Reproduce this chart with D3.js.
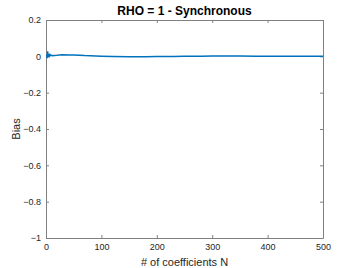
<!DOCTYPE html>
<html>
<head>
<meta charset="utf-8">
<script src="https://cdn.jsdelivr.net/npm/d3@7"></script>
<style>
  body { margin: 0; background: #fff; }
  text { font-family: "Liberation Sans", Arial, sans-serif; }
</style>
</head>
<body>
<div id="chart"></div>
<script>
// data
var coeffN = [1, 2, 3, 4, 5, 6, 7, 8, 10, 12, 15, 20, 25, 30, 40, 50, 60, 70, 80, 100,
  120, 150, 180, 200, 230, 250, 280, 300, 320, 350, 380, 400, 430, 450, 480, 500];
var bias = [0.008, -0.01, 0.028, -0.004, 0.012, 0.002, 0.01, 0.004, 0.006, 0.003, 0.005, 0.006,
  0.008, 0.009, 0.008, 0.007, 0.006, 0.004, 0.003, 0.001, -0.001, -0.002, -0.002, -0.001,
  -0.001, 0, 0.001, 0.002, 0.002, 0.002, 0.001, 0.001, 0, 0.001, 0.001, 0.001];
var xTicks = [0, 100, 200, 300, 400, 500];
var yTicks = [-1, -0.8, -0.6, -0.4, -0.2, 0, 0.2];

var svgWidth = 357;
var svgHeight = 268;
var margin = { top: 20, right: 34, bottom: 30, left: 46 };
var width = svgWidth - margin.left - margin.right;
var height = svgHeight - margin.top - margin.bottom;

var svg = d3.select("#chart")
  .append("svg")
  .attr("width", svgWidth)
  .attr("height", svgHeight);

var chartGroup = svg.append("g")
  .attr("transform", `translate(${margin.left}, ${margin.top})`);

var xScale = d3.scaleLinear().domain([0, 500]).range([0, width]);
var yScale = d3.scaleLinear().domain([-1, 0.2]).range([height, 0]);

var axisColor = "#808080";
var fmt = d => d3.format("")(+d.toFixed(1));

function styleAxis(g, showLabels) {
  g.select(".domain").attr("stroke", axisColor);
  g.selectAll(".tick line").attr("stroke", axisColor);
  g.selectAll(".tick text")
    .attr("fill", "#262626")
    .style("font-size", "9px")
    .attr("opacity", showLabels ? 1 : 0);
}

// bottom / left with labels, top / right mirror ticks
chartGroup.append("g")
  .attr("transform", `translate(0, ${height})`)
  .call(d3.axisBottom(xScale).tickValues(xTicks).tickSizeInner(-3).tickSizeOuter(0).tickPadding(6).tickFormat(fmt))
  .call(g => styleAxis(g, true));

chartGroup.append("g")
  .call(d3.axisTop(xScale).tickValues(xTicks).tickSizeInner(-3).tickSizeOuter(0).tickFormat(""))
  .call(g => styleAxis(g, false));

chartGroup.append("g")
  .call(d3.axisLeft(yScale).tickValues(yTicks).tickSizeInner(-3).tickSizeOuter(0).tickPadding(5).tickFormat(fmt))
  .call(g => styleAxis(g, true));

chartGroup.append("g")
  .attr("transform", `translate(${width}, 0)`)
  .call(d3.axisRight(yScale).tickValues(yTicks).tickSizeInner(-3).tickSizeOuter(0).tickFormat(""))
  .call(g => styleAxis(g, false));

// line
var line = d3.line()
  .x((d, i) => xScale(coeffN[i]))
  .y(d => yScale(d));

chartGroup.append("path")
  .datum(bias)
  .attr("fill", "none")
  .attr("stroke", "#0072BD")
  .attr("stroke-width", 1.5)
  .attr("d", line);

// title and labels
svg.append("text")
  .attr("x", margin.left + width / 2)
  .attr("y", 15)
  .attr("text-anchor", "middle")
  .style("font-size", "12px")
  .style("font-weight", "bold")
  .attr("fill", "#000")
  .text("RHO = 1 - Synchronous");

svg.append("text")
  .attr("x", margin.left + width / 2)
  .attr("y", 266)
  .attr("text-anchor", "middle")
  .style("font-size", "11px")
  .attr("fill", "#262626")
  .text("# of coefficients N");

svg.append("text")
  .attr("transform", `translate(20, ${margin.top + height / 2}) rotate(-90)`)
  .attr("text-anchor", "middle")
  .style("font-size", "11px")
  .attr("fill", "#262626")
  .text("Bias");
</script>
</body>
</html>
